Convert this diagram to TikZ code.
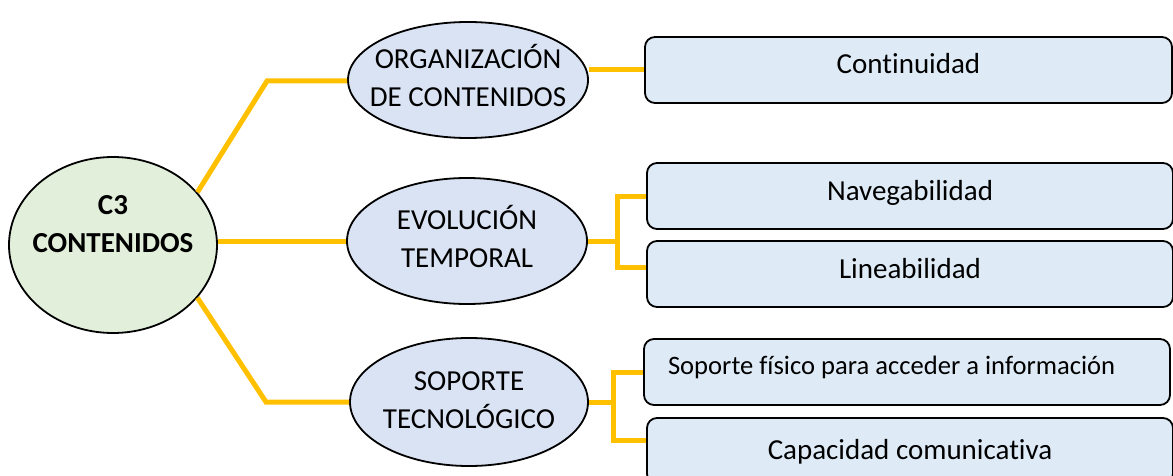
\documentclass[tikz,border=0pt]{standalone}
\usepackage{fontspec}
\setmainfont{Carlito}[Ligatures=NoCommon]
\usepackage{tikz}
\usetikzlibrary{shapes.geometric,positioning,calc}
\usepackage{xcolor}
\definecolor{gold}{HTML}{FFC000}
\definecolor{leaf}{HTML}{E2EFDA}
\definecolor{mist}{HTML}{DAE3F3}
\definecolor{frost}{HTML}{DEEBF7}
\newcommand{\elltext}[1]{\makebox[0pt]{\begin{tabular}{@{}c@{}}#1\end{tabular}}}
\tikzset{rootell/.style={ellipse,draw=black,fill=leaf,line width=.9pt,inner sep=0pt,minimum width=104pt,minimum height=88pt,font=\fontsize{14.5}{19}\selectfont\bfseries},
topicell/.style={ellipse,draw=black,fill=mist,line width=.9pt,inner sep=0pt,minimum width=120pt,font=\fontsize{14.5}{19}\selectfont},
itembox/.style={draw=black,fill=frost,rounded corners=5pt,line width=.9pt,minimum width=263pt,minimum height=33pt,inner sep=0pt,text height=10pt,text depth=6pt,font=\fontsize{14.5}{19}\selectfont},
link/.style={draw=gold,line width=2.5pt}}

\begin{document}
\begin{tikzpicture}[x=.5pt,y=-.5pt]
\useasboundingbox (0,0) rectangle (1173,476);
\clip (0,0) rectangle (1173,476);
% ellipses
\node[rootell] (main) at (113,245) {\elltext{C3\\CONTENIDOS\\\mbox{}}};
\node[topicell,minimum height=58pt] (org) at (468,80) {\elltext{ORGANIZACIÓN\\DE CONTENIDOS}};
\node[topicell,minimum height=63pt] (evo) at (467,241) {\elltext{EVOLUCIÓN\\TEMPORAL}};
\node[topicell,minimum height=64pt,minimum width=119pt] (sop) at (469,402) {\elltext{SOPORTE\\TECNOLÓGICO}};
% boxes
\node[itembox,minimum width=263.5pt] (cont) at (908.5,70) {Continuidad};
\node[itembox] (nav) at (910,196) {Navegabilidad};
\node[itembox] (lin) at (910,274) {Lineabilidad};
\node[itembox,inner xsep=12pt,text depth=8pt,font=\fontsize{13.3}{16}\selectfont] (phys) at (907,372) {\makebox[239pt][l]{Soporte físico para acceder a información}};
\node[itembox,text depth=2pt] (cap) at (910,451) {Capacidad comunicativa};
% connectors
\coordinate (k1) at (267,81);\coordinate (k3) at (266,402);
\coordinate (b2) at (617,241);\coordinate (b3) at (613,402);
\draw[link] (main.32) -- (k1) -- (org.west |- k1);
\draw[link] (main.east |- evo) -- (evo.west);
\draw[link] (main.-32) -- (k3) -- (sop.west);
\draw[link] (org.east |- cont.west) -- (cont.west);
\draw[link] (evo.east) -- (b2);
\draw[link] (nav.west) -| (b2) |- ([yshift=3.5pt]lin.west);
\draw[link] (sop.east) -- (b3);
\draw[link] (phys.west) -| (b3) |- ([yshift=5.5pt]cap.west);
\end{tikzpicture}
\end{document}
